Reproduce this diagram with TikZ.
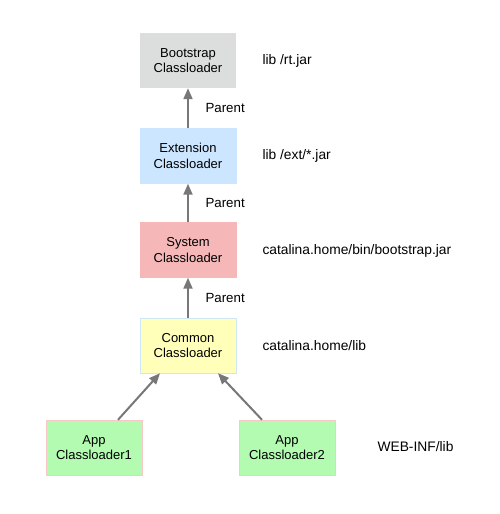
\documentclass[tikz,border=0pt]{standalone}
\usepackage{fontspec}
\setmainfont{Liberation Sans}
\usetikzlibrary{arrows.meta}
\definecolor{bootgray}{HTML}{DCDEDE}
\definecolor{extblue}{HTML}{CCE6FF}
\definecolor{syspink}{HTML}{F5B7B8}
\definecolor{comyellow}{HTML}{FFFFBA}
\definecolor{comborder}{HTML}{CFE7F5}
\definecolor{appgreen}{HTML}{B3FBB0}
\definecolor{appborder}{HTML}{F8C8C8}
\definecolor{arrowgray}{HTML}{777777}
\begin{document}
\begin{tikzpicture}[x=1pt, y=-1pt, font=\fontsize{13}{15.5}\selectfont,
    loader/.style={minimum width=96pt, minimum height=55pt, align=center, inner sep=0pt},
    pathlabel/.style={anchor=west, font=\fontsize{13.8}{16}\selectfont},
    parentlabel/.style={anchor=west, font=\fontsize{13.3}{16}\selectfont},
    parentarrow/.style={draw=arrowgray, line width=2pt, -{Triangle[length=11pt,width=9pt]}}]
    \useasboundingbox (0,0) rectangle (500,514);

    % Class loader boxes
    \node[loader, fill=bootgray] (boot) at (188,60.5) {Bootstrap\\Classloader};
    \node[loader, fill=extblue, draw=extblue] (ext) at (188,156) {Extension\\Classloader};
    \node[loader, fill=syspink, draw=syspink] (sys) at (188,250) {System\\Classloader};
    \node[loader, fill=comyellow, draw=comborder] (common) at (188,345.5) {Common\\Classloader};
    \node[loader, fill=appgreen, draw=appborder] (app1) at (94,447.5) {App\\Classloader1};
    \node[loader, fill=appgreen, draw=appborder] (app2) at (287,447.5) {App\\Classloader2};

    % Parent arrows
    \draw[parentarrow] (ext) -- (boot);
    \draw[parentarrow] (sys) -- (ext);
    \draw[parentarrow] (common) -- (sys);
    \draw[parentarrow] ([xshift=24pt]app1.north) -- ([xshift=-28pt]common.south);
    \draw[parentarrow] ([xshift=-25pt]app2.north) -- ([xshift=30pt]common.south);

    % Parent labels
    \node[parentlabel] (p1) at (202,108) {Parent};
    \node[parentlabel] (p2) at (202,203) {Parent};
    \node[parentlabel] (p3) at (202,298) {Parent};

    % Paths
    \node[pathlabel] (bootlib) at (259,61) {lib /rt.jar};
    \node[pathlabel] (extlib) at (259,156) {lib /ext/*.jar};
    \node[pathlabel] (syslib) at (259,251) {catalina.home/bin/bootstrap.jar};
    \node[pathlabel] (comlib) at (259,346) {catalina.home/lib};
    \node[pathlabel] (applib) at (374,447) {WEB-INF/lib};
\end{tikzpicture}
\end{document}
